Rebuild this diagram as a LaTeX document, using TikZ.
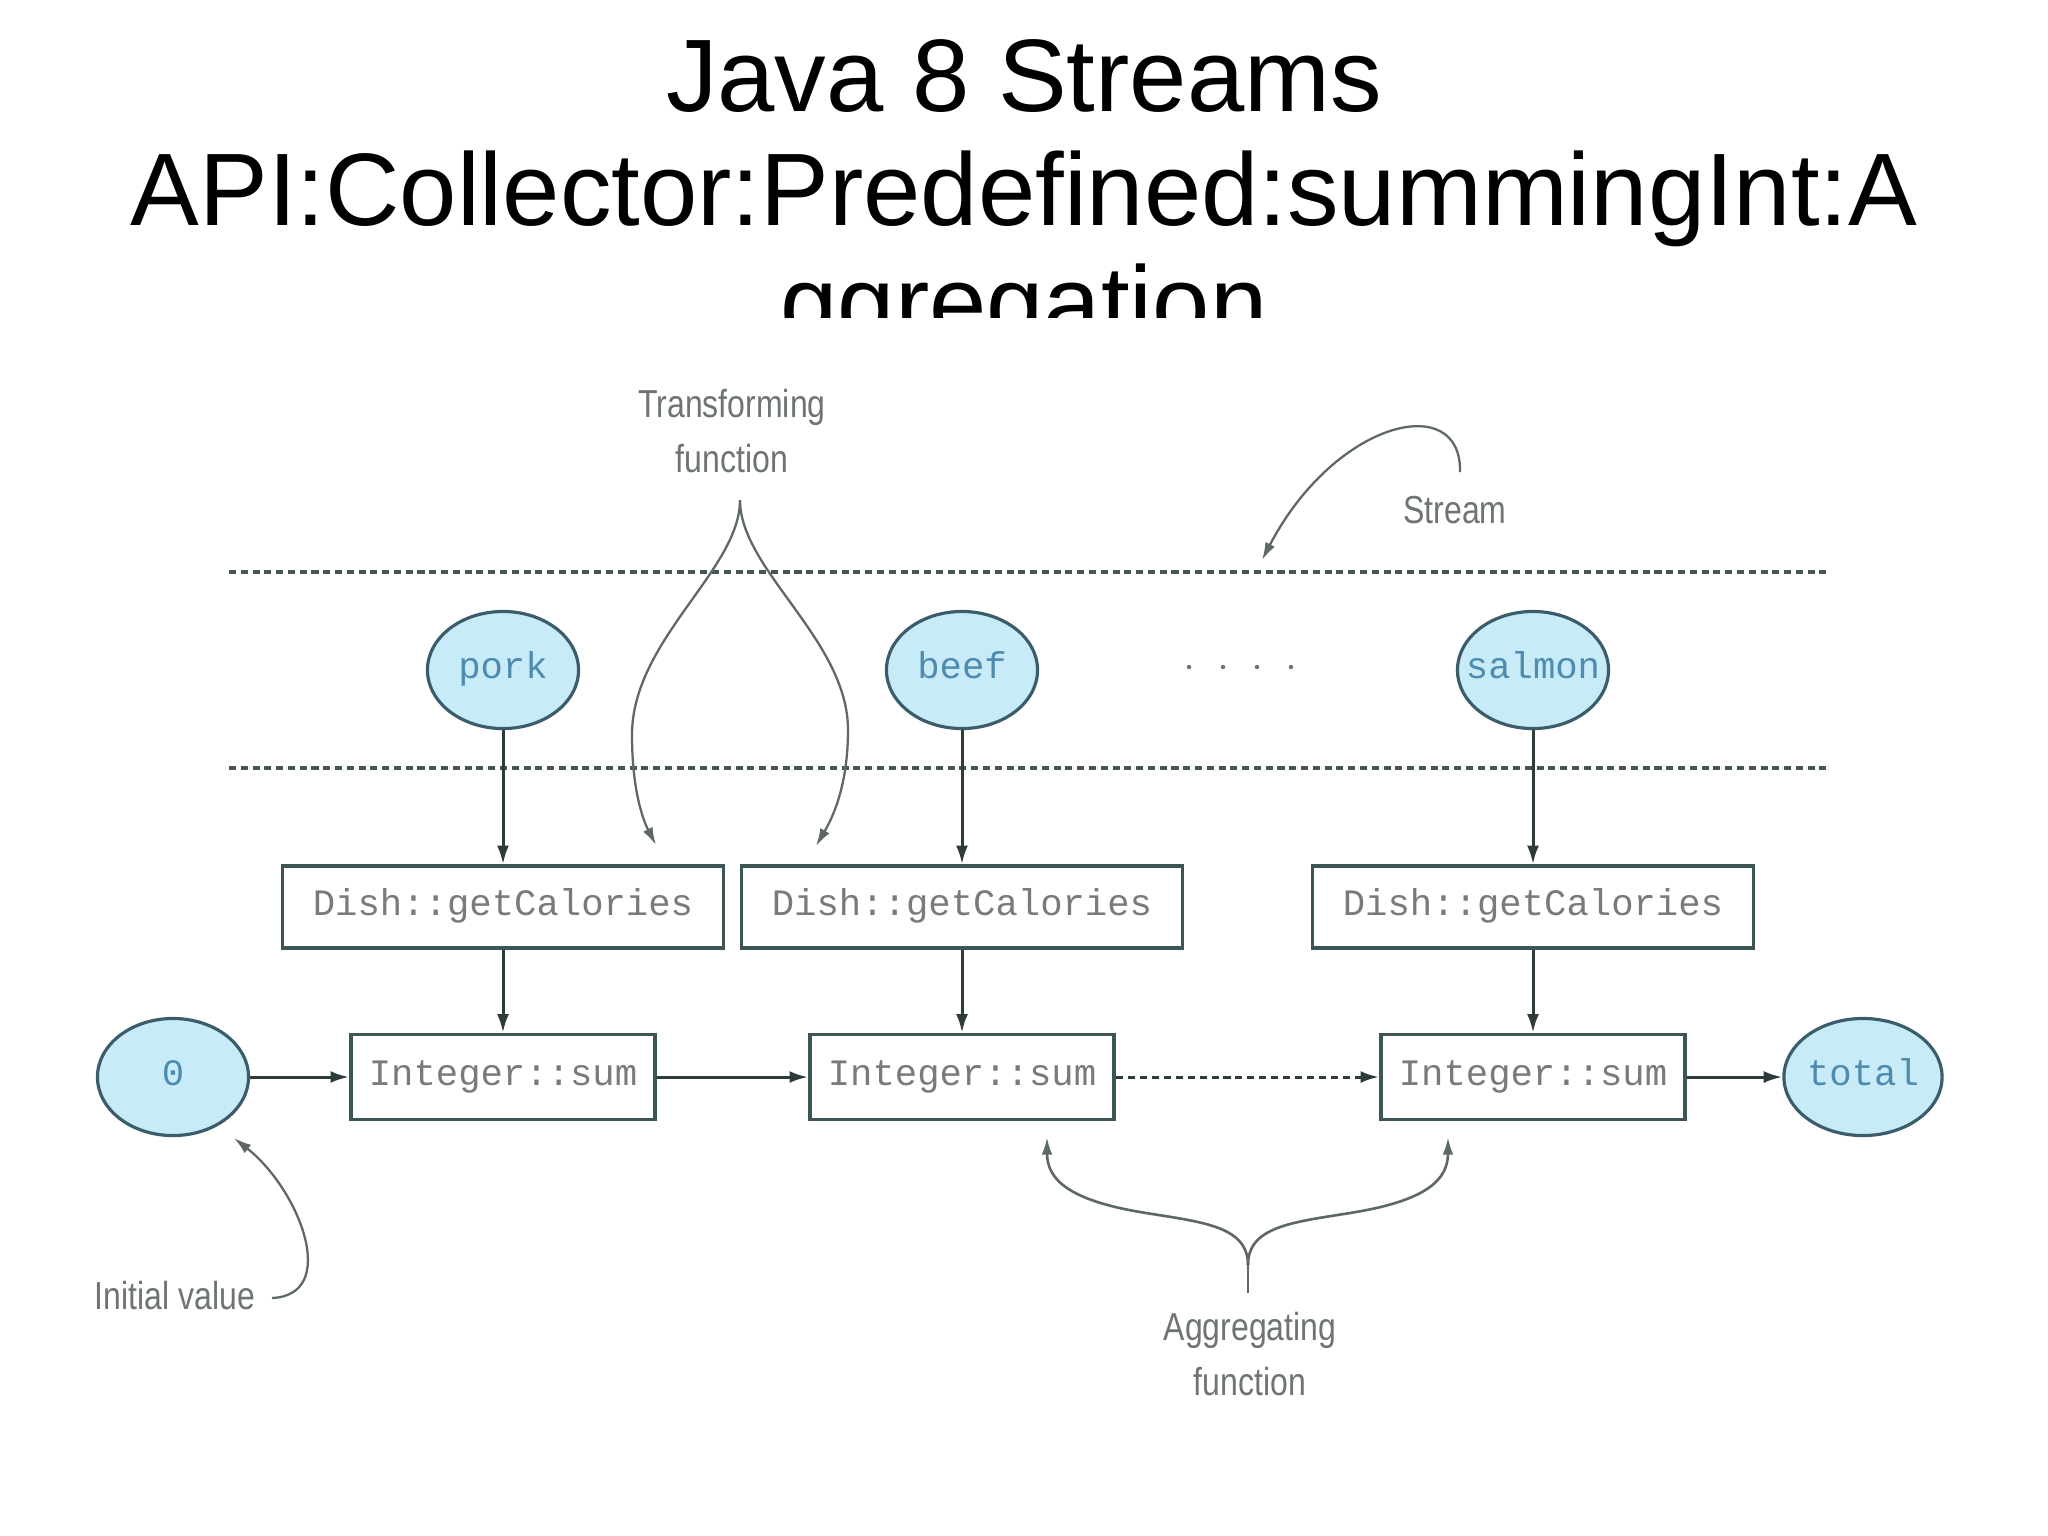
\documentclass[tikz,border=0pt]{standalone}
\usepackage{fontspec}
\usepackage{graphicx}
\usetikzlibrary{shapes.geometric,arrows.meta}
\newfontfamily\ttlfont{Liberation Sans}
\newfontfamily\codefont{Liberation Mono}
\newfontfamily\lblfont{Liberation Sans}
\definecolor{connline}{HTML}{2E3B3B}
\definecolor{dashline}{HTML}{465656}
\definecolor{boxline}{HTML}{3D5555}
\definecolor{elline}{HTML}{3B5C6B}
\definecolor{elfill}{HTML}{C8EBF8}
\definecolor{eltext}{HTML}{4F8BAE}
\definecolor{codegray}{HTML}{7A7A7A}
\definecolor{notegray}{HTML}{6E7474}
\definecolor{annline}{HTML}{5F6868}
\newcommand{\annlbl}[1]{\scalebox{0.82}[1]{\begin{tabular}{@{}c@{}}#1\end{tabular}}}
\begin{document}
\begin{tikzpicture}[x=0.01cm,y=-0.01cm,
  title/.style={font=\ttlfont\fontsize{29.3pt}{32pt}\selectfont, text=black, inner sep=0pt},
  val/.style={ellipse, draw=elline, line width=0.9pt, fill=elfill, minimum width=1.51cm, minimum height=1.17cm, inner sep=0pt, font=\codefont\fontsize{10.6pt}{12pt}\selectfont, text=eltext, text height=1.6ex, text depth=0.45ex},
  calbox/.style={draw=boxline, line width=1pt, fill=white, minimum width=4.41cm, minimum height=0.82cm, inner sep=0pt, font=\codefont\fontsize{10.6pt}{12pt}\selectfont, text=codegray, text height=1.6ex, text depth=0.45ex},
  sumbox/.style={calbox, minimum width=3.04cm, minimum height=0.85cm},
  conn/.style={draw=connline, line width=0.85pt, -{Latex[length=5.3pt,width=3.4pt]}},
  note/.style={font=\lblfont\fontsize{11.1pt}{15.8pt}\selectfont, text=notegray, inner sep=0pt},
  ann/.style={draw=annline, line width=0.65pt},
  annarrow/.style={ann, -{Latex[length=5pt,width=3pt]}},
  streamline/.style={draw=dashline, line width=0.9pt, dash pattern=on 2pt off 1.35pt}
]
\useasboundingbox (0,0) rectangle (2048,1535);
\fill[white] (0,0) rectangle (2048,1535);

% title
\begin{scope}
\clip (0,0) rectangle (2048,317);
\node[title, anchor=base] (t1) at (1024,111) {Java 8 Streams};
\node[title, anchor=base] (t2) at (1024,225) {API:Collector:Predefined:summingInt:A};
\node[title, anchor=base] (t3) at (1024,338) {ggregation};
\end{scope}

% stream boundaries
\draw[streamline] (229,572) -- (1828,572);
\draw[streamline] (229,768) -- (1828,768);

% stream elements
\node[val] (pork) at (503,670) {pork};
\node[val] (beef) at (962,670) {beef};
\node[val] (salmon) at (1533,670) {\makebox[0pt][c]{salmon}};
\foreach \dx in {1189,1223,1257,1291} \fill[notegray] (\dx,667) circle (2.2);

\node[calbox] (c1) at (503,907) {Dish::getCalories};
\node[calbox] (c2) at (962,907) {Dish::getCalories};
\node[calbox] (c3) at (1533,907) {Dish::getCalories};

\node[val] (zero) at (173,1077) {0};
\node[sumbox] (s1) at (503,1077) {Integer::sum};
\node[sumbox] (s2) at (962,1077) {Integer::sum};
\node[sumbox] (s3) at (1533,1077) {Integer::sum};
\node[val] (total) at (1863,1077) {total};

% connectors
\draw[conn] (pork) -- (c1);
\draw[conn] (beef) -- (c2);
\draw[conn] (salmon) -- (c3);
\draw[conn] (c1) -- (s1);
\draw[conn] (c2) -- (s2);
\draw[conn] (c3) -- (s3);
\draw[conn] (zero) -- (s1);
\draw[conn] (s1) -- (s2);
\draw[conn, dash pattern=on 2pt off 1.4pt] (s2) -- (s3);
\draw[conn] (s3) -- (total);

% annotations
\node[note] (transf) at (732,434) {\annlbl{Transforming\\function}};
\node[note] (stream) at (1455,512) {\annlbl{Stream}};
\node[note] (init) at (175,1298) {\annlbl{Initial value}};
\node[note] (aggr) at (1250,1357) {\annlbl{Aggregating\\function}};

\coordinate (tfa) at (740,500);
\coordinate (tfl) at (656,845);
\coordinate (tfr) at (816,846);
\draw[annarrow] (tfa) .. controls (740,570) and (632,640) .. (632,735) .. controls (632,790) and (643,820) .. (tfl);
\draw[annarrow] (tfa) .. controls (740,570) and (848,640) .. (848,730) .. controls (848,790) and (830,822) .. (tfr);

\coordinate (sta) at (1460,472);
\coordinate (stb) at (1262,560);
\draw[annarrow] (sta) .. controls (1462,390) and (1335,420) .. (stb);

\coordinate (iva) at (272,1298);
\coordinate (ivb) at (234,1138);
\draw[annarrow] (iva) .. controls (340,1295) and (300,1190) .. (ivb);

\coordinate (aga) at (1248,1293);
\coordinate (agm) at (1248,1265);
\coordinate (agl) at (1047,1137);
\coordinate (agr) at (1448,1137);
\draw[ann, line width=0.75pt] (aga) -- (agm);
\draw[annarrow, line width=0.75pt] (agm) .. controls (1248,1225) and (1200,1222) .. (1140,1212) .. controls (1070,1200) and (1047,1180) .. (agl);
\draw[annarrow, line width=0.75pt] (agm) .. controls (1248,1225) and (1296,1222) .. (1356,1212) .. controls (1426,1200) and (1448,1180) .. (agr);
\end{tikzpicture}
\end{document}
